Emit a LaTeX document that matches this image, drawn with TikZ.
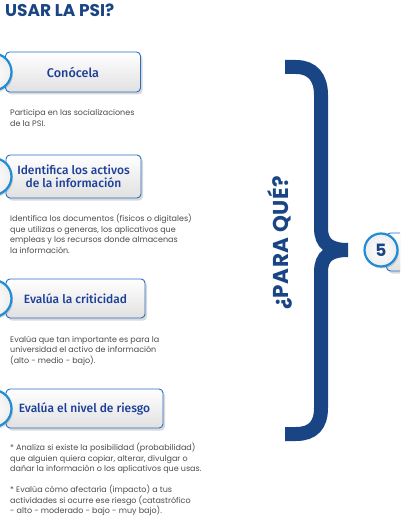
\documentclass[tikz,border=0pt]{standalone}
\usepackage{fontspec}
\setmainfont{Poppins}
\newfontfamily\btnfont{Fira Sans Medium}
\usetikzlibrary{shadows}

\definecolor{navy}{RGB}{26,69,132}
\definecolor{btntext}{RGB}{27,62,152}
\definecolor{ringblue}{RGB}{32,140,212}
\definecolor{edgeblue}{RGB}{40,110,200}
\definecolor{bodygray}{RGB}{75,75,75}

\tikzset{
  btnbox/.style={rounded corners=4pt,draw=edgeblue,line width=0.9pt,
    top color=white,bottom color=black!12,
    drop shadow={shadow xshift=2pt,shadow yshift=-2.5pt,opacity=0.3},
    font=\btnfont\fontsize{12}{13.5}\selectfont,text=btntext,align=center,inner sep=0pt},
  ring/.style={circle,draw=ringblue,line width=2.2pt,inner color=white,outer color=black!7,
    minimum size=37pt,inner sep=0pt,
    drop shadow={shadow xshift=1.5pt,shadow yshift=-2pt,opacity=0.3}},
  % base = last line of the text
  desc/.style={anchor=base west,inner sep=0pt,align=left,
    font=\fontsize{8}{10.5}\selectfont,text=bodygray},
}

\begin{document}
\begin{tikzpicture}[x=1pt,y=-1pt]
  \useasboundingbox (0,0) rectangle (400,516);
  \clip (0,0) rectangle (400,516);

  \node[anchor=base west,inner sep=0pt,text=navy,font=\bfseries\fontsize{17}{17}\selectfont] (title) at (5,17) {USAR LA PSI?};

  % pasos
  \node[btnbox,minimum width=135pt,minimum height=40pt] (conocela) at (73,72) {\fontsize{12.6}{13.5}\selectfont Conócela};
  \node[ring] (c1) at (-7,72) {};
  \node[desc] (d1) at (10,126) {Participa en las socializaciones\\de la PSI.};

  \node[btnbox,minimum width=135pt,minimum height=43pt] (activos) at (73.5,176.5) {Identifica los activos\\de la información};
  \node[ring] (c2) at (-7,176.5) {};
  \node[desc] (d2) at (10,253) {Identifica los documentos (físicos o digitales)\\que utilizas o generas, los aplicativos que\\empleas y los recursos donde almacenas\\la información.};

  \node[btnbox,minimum width=139pt,minimum height=39pt] (criticidad) at (75.5,298.5) {Evalúa la criticidad};
  \node[ring] (c3) at (-7,298.5) {};
  \node[desc] (d3) at (10,363) {Evalúa que tan importante es para la\\universidad el activo de información\\(alto - medio - bajo).};

  \node[btnbox,minimum width=157pt,minimum height=39pt] (riesgo) at (84.5,408.5) {Evalúa el nivel de riesgo};
  \node[ring] (c4) at (-7,408.5) {};
  \node[desc] (d4) at (10,513.5) {* Analiza si existe la posibilidad (probabilidad)\\que alguien quiera copiar, alterar, divulgar o\\dañar la información o los aplicativos que usas.\\[10.5pt]* Evalúa cómo afectaría (impacto) a tus\\actividades si ocurre ese riesgo (catastrófico\\- alto - moderado - bajo - muy bajo).};

  % llave
  \draw[navy,line width=14pt] (285,67) -- (296,67) .. controls (313,67) and (321,78) .. (321,95)
    -- (321,228) .. controls (321,244) and (330,250) .. (348,250);
  \draw[navy,line width=14pt] (348,250) .. controls (330,250) and (321,256) .. (321,272)
    -- (321,408) .. controls (321,425) and (313,434) .. (296,434) -- (285,434);
  \node[rotate=90,inner sep=0pt,text=navy,font=\bfseries\fontsize{21.5}{21.5}\selectfont\addfontfeatures{LetterSpace=2}] (paraque) at (280,243) {¿PARA QUÉ?};

  \node[btnbox,anchor=west,minimum width=60pt,minimum height=38pt] (paso5) at (386,252) {};
  \node[ring,minimum size=33pt,text=navy,font=\bfseries\fontsize{17}{17}\selectfont] (five) at (381,250) {5};
\end{tikzpicture}
\end{document}
